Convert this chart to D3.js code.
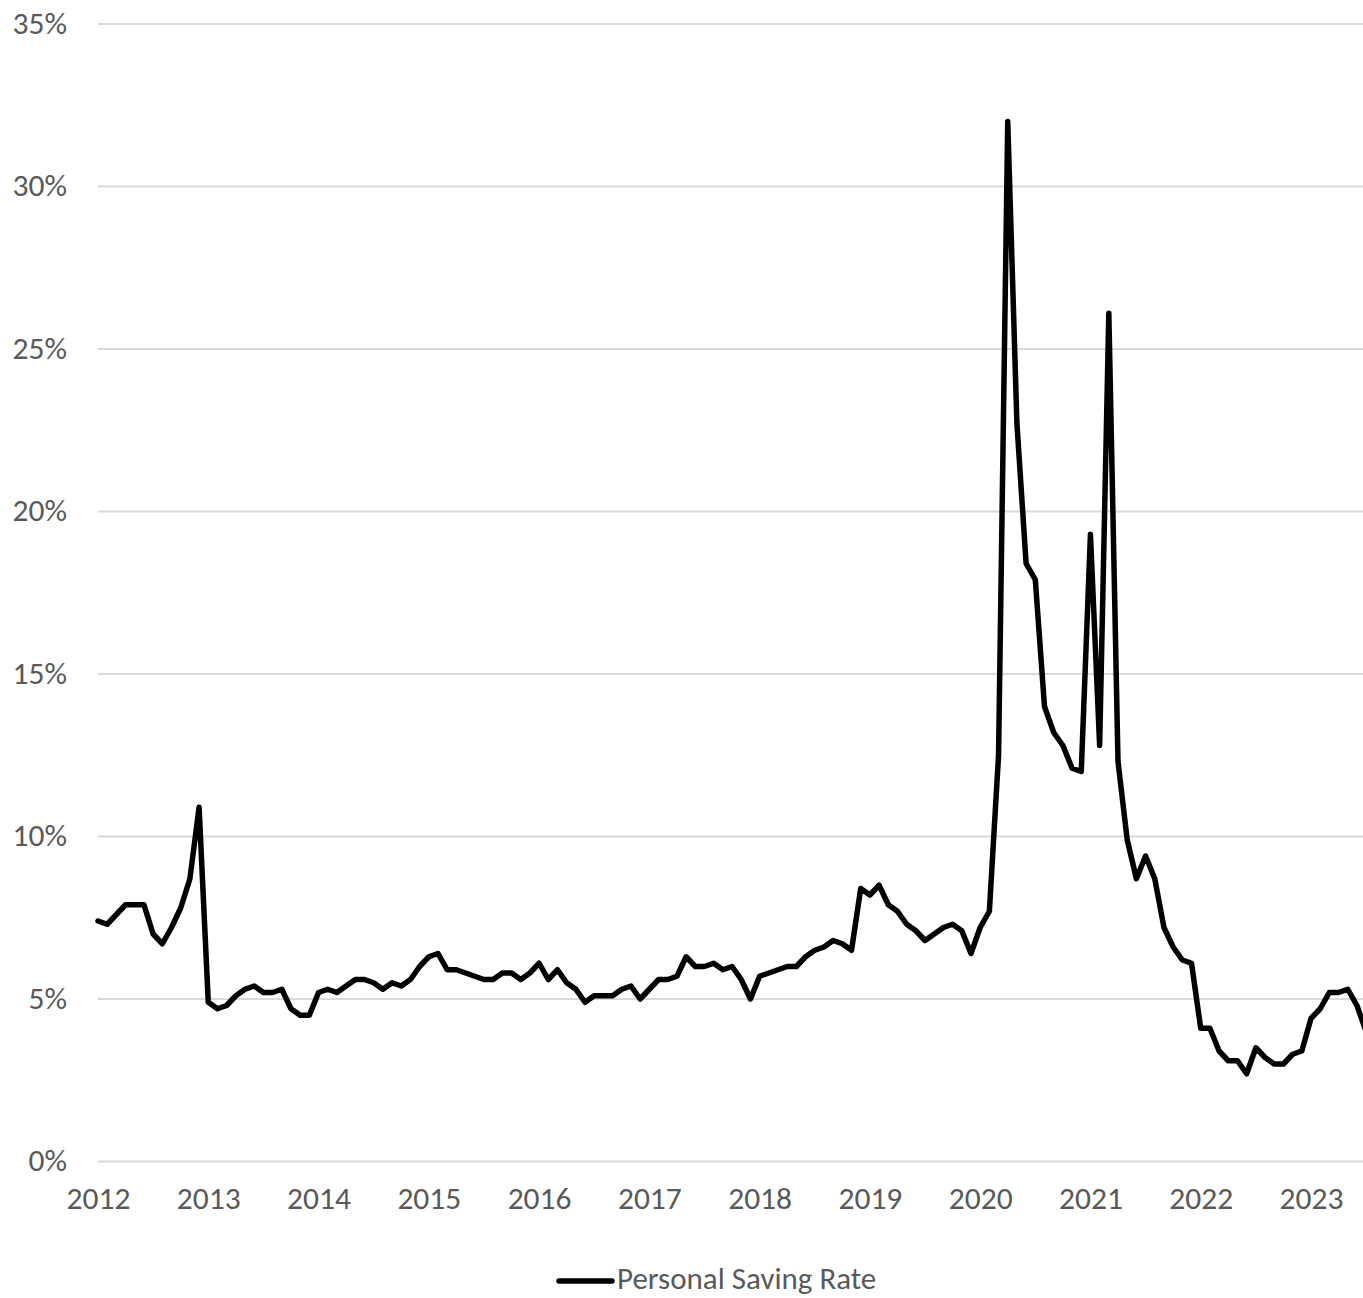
<!DOCTYPE html>
<html>
<head>
<meta charset="utf-8">
<script src="https://cdn.jsdelivr.net/npm/d3@7"></script>
<style>
  body { margin: 0; background: #fff; }
  text { font-family: Carlito, Calibri, "Open Sans", sans-serif; fill: #595959; }
</style>
</head>
<body>
<svg id="chart" width="1363" height="1298"></svg>
<script>
// monthly personal saving rate, Jan 2012 onward (percent)
var rate2012 = [7.4, 7.3, 7.6, 7.9, 7.9, 7.9, 7.0, 6.7, 7.2, 7.8, 8.7, 10.9];
var rate2013 = [4.9, 4.7, 4.8, 5.1, 5.3, 5.4, 5.2, 5.2, 5.3, 4.7, 4.5, 4.5];
var rate2014 = [5.2, 5.3, 5.2, 5.4, 5.6, 5.6, 5.5, 5.3, 5.5, 5.4, 5.6, 6.0];
var rate2015 = [6.3, 6.4, 5.9, 5.9, 5.8, 5.7, 5.6, 5.6, 5.8, 5.8, 5.6, 5.8];
var rate2016 = [6.1, 5.6, 5.9, 5.5, 5.3, 4.9, 5.1, 5.1, 5.1, 5.3, 5.4, 5.0];
var rate2017 = [5.3, 5.6, 5.6, 5.7, 6.3, 6.0, 6.0, 6.1, 5.9, 6.0, 5.6, 5.0];
var rate2018 = [5.7, 5.8, 5.9, 6.0, 6.0, 6.3, 6.5, 6.6, 6.8, 6.7, 6.5, 8.4];
var rate2019 = [8.2, 8.5, 7.9, 7.7, 7.3, 7.1, 6.8, 7.0, 7.2, 7.3, 7.1, 6.4];
var rate2020 = [7.2, 7.7, 12.5, 32.0, 22.7, 18.4, 17.9, 14.0, 13.2, 12.8, 12.1, 12.0];
var rate2021 = [19.3, 12.8, 26.1, 12.3, 9.9, 8.7, 9.4, 8.7, 7.2, 6.6, 6.2, 6.1];
var rate2022 = [4.1, 4.1, 3.4, 3.1, 3.1, 2.7, 3.5, 3.2, 3.0, 3.0, 3.3, 3.4];
var rate2023 = [4.4, 4.7, 5.2, 5.2, 5.3, 4.8, 4.0];

var yearLabels = ["2012", "2013", "2014", "2015", "2016", "2017", "2018", "2019", "2020", "2021", "2022", "2023"];
var yTicks = [0, 5, 10, 15, 20, 25, 30, 35];
var seriesName = "Personal Saving Rate";

drawChart();

function drawChart(){
  var svg = d3.select("#chart"),
    width = +svg.attr("width");

  var values = [].concat(rate2012, rate2013, rate2014, rate2015, rate2016, rate2017,
                         rate2018, rate2019, rate2020, rate2021, rate2022, rate2023);
  var data = values.map(function(v, i){ return {m: i, v: v}; });

  var left = 98, right = width, top = 24, bottom = 1161.5;

  // x is months since Jan 2012, roughly 9.19px a month
  var x = d3.scaleLinear().domain([0, 137.66]).range([left, right]);
  var y = d3.scaleLinear().domain([0, 35]).range([bottom, top]);

  // gridlines
  svg.append("g")
    .selectAll("line")
    .data(yTicks)
    .enter().append("line")
      .attr("x1", left)
      .attr("x2", right)
      .attr("y1", function(d){ return y(d); })
      .attr("y2", function(d){ return y(d); })
      .style("stroke", "#d9d9d9")
      .style("stroke-width", 2);

  // y labels
  var yAxis = d3.axisLeft(y).tickValues(yTicks)
    .tickFormat(function(d){ return d + "%"; })
    .tickSize(0).tickPadding(0);
  var gy = svg.append("g")
    .attr("transform", "translate(67,0)")
    .call(yAxis);
  gy.select(".domain").remove();
  gy.selectAll("text")
    .attr("font-family", null)
    .style("font-size", "31.5px")
    .attr("dy", "0.3em");

  // x labels at each January
  var xAxis = d3.axisBottom(x)
    .tickValues(d3.range(0, 12 * yearLabels.length, 12))
    .tickFormat(function(d){ return yearLabels[d / 12]; })
    .tickSize(0).tickPadding(0);
  var gx = svg.append("g")
    .attr("transform", "translate(0,1187)")
    .call(xAxis);
  gx.select(".domain").remove();
  gx.selectAll("text")
    .attr("font-family", null)
    .style("font-size", "31.5px")
    .attr("dy", "0.71em");

  svg.append("clipPath")
    .attr("id", "plotClip")
    .append("rect")
      .attr("x", 0).attr("y", 0)
      .attr("width", right).attr("height", bottom + 10);

  var line = d3.line()
    .x(function(d){ return x(d.m); })
    .y(function(d){ return y(d.v); });

  svg.append("path")
    .datum(data)
    .attr("clip-path", "url(#plotClip)")
    .attr("d", line)
    .style("fill", "none")
    .style("stroke", "#000")
    .style("stroke-width", 5.5)
    .style("stroke-linejoin", "round")
    .style("stroke-linecap", "round");

  // legend, pushed up a touch so the descenders stay on the page
  var legend = svg.append("g");
  legend.append("line")
    .attr("x1", 559).attr("x2", 612)
    .attr("y1", 1281).attr("y2", 1281)
    .style("stroke", "#000")
    .style("stroke-width", 5.5)
    .style("stroke-linecap", "round");
  legend.append("text")
    .attr("x", 617)
    .attr("y", 1289)
    .style("font-size", "31px")
    .text(seriesName);
}
</script>
</body>
</html>
